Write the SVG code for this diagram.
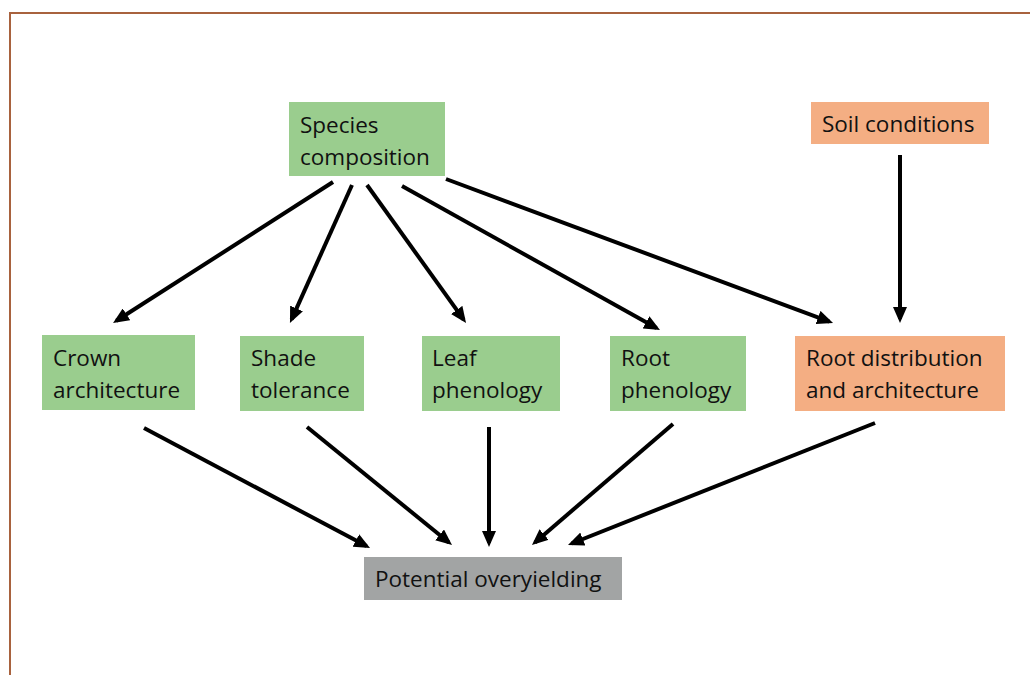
<svg xmlns="http://www.w3.org/2000/svg" width="1030" height="675" viewBox="0 0 1030 675">
<style>
.g{fill:#9acd8e}
.o{fill:#f4ae83}
.gr{fill:#a2a4a4}
text{font-family:"Open Sans","Noto Sans","Liberation Sans",sans-serif;font-size:22.5px;fill:#111}
.c line{stroke:#000;stroke-width:4;marker-end:url(#ah)}
</style>
<defs>
<marker id="ah" markerUnits="userSpaceOnUse" markerWidth="16" markerHeight="14" viewBox="0 0 16 14" refX="12" refY="7" orient="auto">
<path d="M0,0 L16,7 L0,14 z" fill="#000"/>
</marker>
</defs>
<rect width="1030" height="675" fill="#fff"/>
<path d="M10,675 V13 H1030" fill="none" stroke="#a8623e" stroke-width="2"/>
<g id="species"><rect class="g" x="289" y="102" width="156" height="74"/><text x="300" y="133">Species</text><text x="300" y="165">composition</text></g>
<g id="soil"><rect class="o" x="811" y="102" width="178" height="42"/><text x="822" y="132">Soil conditions</text></g>
<g id="crown"><rect class="g" x="42" y="335" width="153" height="75"/><text x="53" y="366">Crown</text><text x="53" y="398">architecture</text></g>
<g id="shade"><rect class="g" x="240" y="336" width="124" height="75"/><text x="251" y="366">Shade</text><text x="251" y="398">tolerance</text></g>
<g id="leaf"><rect class="g" x="422" y="336" width="138" height="75"/><text x="432" y="366">Leaf</text><text x="432" y="398">phenology</text></g>
<g id="rootphen"><rect class="g" x="610" y="336" width="136" height="75"/><text x="621" y="366">Root</text><text x="621" y="398">phenology</text></g>
<g id="rootdist"><rect class="o" x="795" y="336" width="210" height="75"/><text x="806" y="366">Root distribution</text><text x="806" y="398">and architecture</text></g>
<g id="overyield"><rect class="gr" x="364" y="557" width="258" height="43"/><text x="375" y="587">Potential overyielding</text></g>
<g id="connectors" class="c">
<line x1="333" y1="182" x2="116.4" y2="320.8"/>
<line x1="352" y1="185" x2="291.6" y2="319.4"/>
<line x1="367" y1="185" x2="463.7" y2="319.7"/>
<line x1="402" y1="186" x2="656.5" y2="328.1"/>
<line x1="446" y1="179" x2="829.3" y2="321.6"/>
<line x1="900" y1="155" x2="900" y2="319"/>
<line x1="144" y1="428" x2="366.5" y2="546.1"/>
<line x1="307" y1="427" x2="448.9" y2="542.5"/>
<line x1="489" y1="427" x2="489" y2="543"/>
<line x1="673" y1="424" x2="535" y2="542.4"/>
<line x1="875" y1="423" x2="571.7" y2="543.5"/>
</g>
</svg>
